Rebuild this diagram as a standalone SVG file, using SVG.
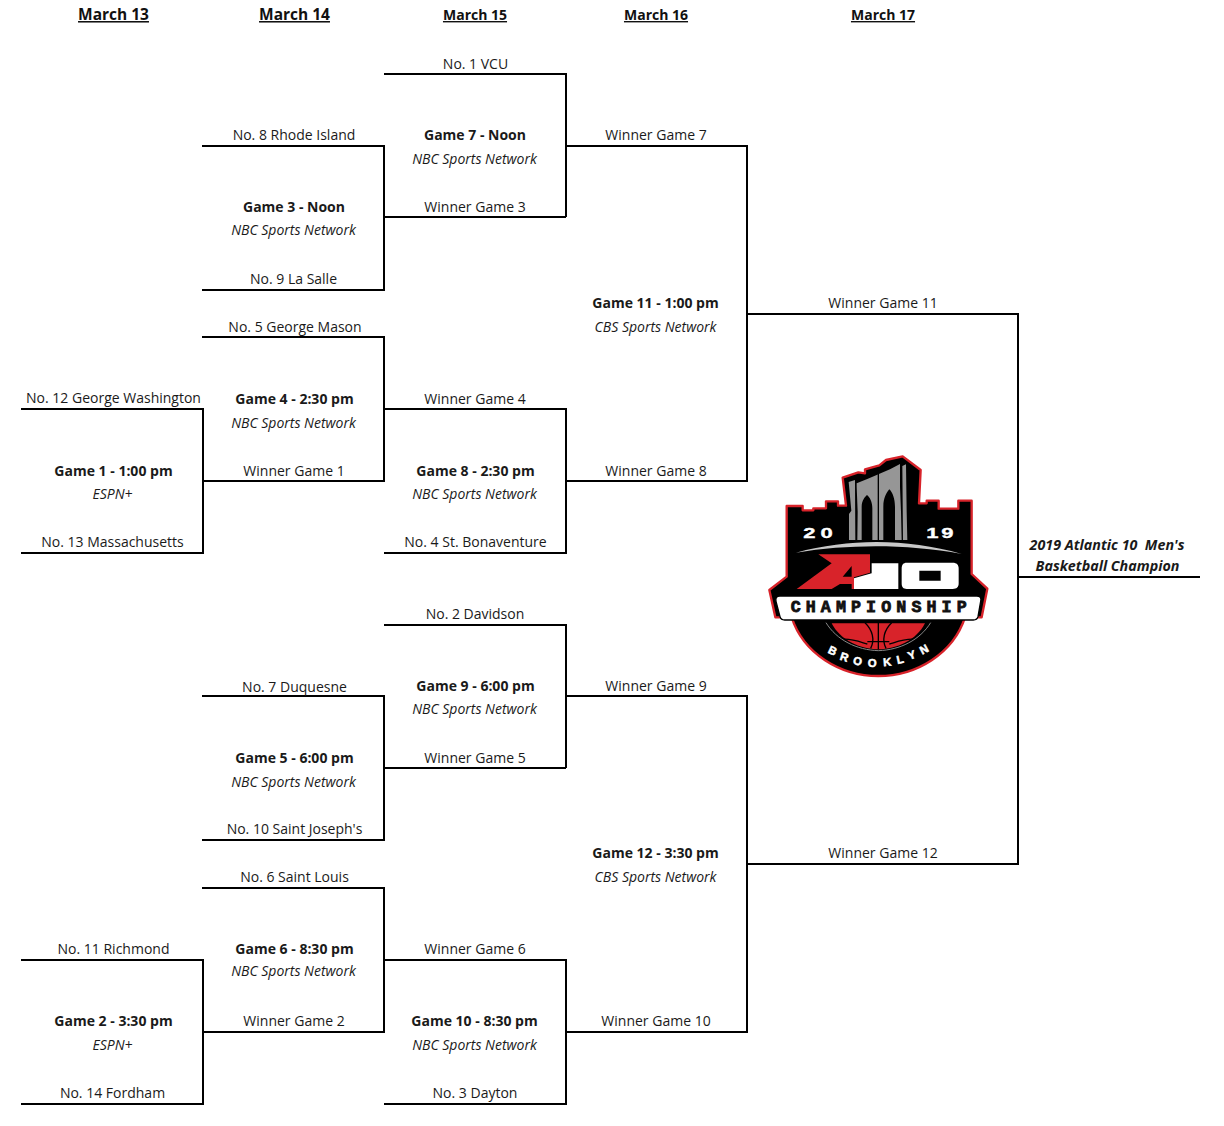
<svg xmlns="http://www.w3.org/2000/svg" width="1224" height="1126" viewBox="0 0 1224 1126">
<style>
text{font-family:"Open Sans","Noto Sans","Liberation Sans",sans-serif;font-size:14px;fill:#1a1a1a;text-anchor:middle}
.b{font-weight:700}
.i{font-style:italic}
.h{font-weight:700;text-decoration:underline;font-size:15.500px;fill:#111}
.h2{font-weight:700;text-decoration:underline;font-size:14px;fill:#111}
.c{font-weight:700;font-style:italic;font-size:14.300px}
#connectors path{fill:none;stroke:#000;stroke-width:2}
#logo text.y{font-family:"Liberation Sans",sans-serif;font-weight:700;fill:#fff;stroke:#fff;stroke-width:1;font-size:44px}
#logo text.k{font-family:"Liberation Sans",sans-serif;font-weight:700;fill:#fff;stroke:#fff;stroke-width:1.500;font-size:34px}
#logo text.m{font-family:"Liberation Mono",monospace;font-weight:700;fill:#111;stroke:#111;stroke-width:2.500;font-size:50px}
</style>
<rect width="1224" height="1126" fill="#fff"/>
<g id="connectors">
<path d="M202 146H384V290H202M384 217H566M384 74H566V217M566 146H747V481H566"/>
<path d="M202 337H384V481H203M21 409H203V553H21M384 409H566V553H384M747 314H1018V864H747"/>
<path d="M1018 577H1200"/>
<path d="M202 696H384V840H202M384 768H566M384 625H566V768M566 696H747V1032H566"/>
<path d="M202 888H384V1032H203M21 960H203V1104H21M384 960H566V1104H384"/>
</g>
<g id="headers">
<text class="h" x="113.500" y="20">March 13</text>
<text class="h" x="294.500" y="20">March 14</text>
<text class="h2" x="475" y="20">March 15</text>
<text class="h2" x="656" y="20">March 16</text>
<text class="h2" x="883" y="20">March 17</text>
</g>
<g id="game-1"><text x="113.500" y="403">No. 12 George Washington</text><text class="b" x="113.500" y="476">Game 1 - 1:00 pm</text><text class="i" x="112.500" y="499">ESPN+</text><text x="112.500" y="547">No. 13 Massachusetts</text></g>
<g id="game-2"><text x="113.500" y="954">No. 11 Richmond</text><text class="b" x="113.500" y="1026">Game 2 - 3:30 pm</text><text class="i" x="112.500" y="1050">ESPN+</text><text x="112.500" y="1098">No. 14 Fordham</text></g>
<g id="game-3"><text x="294" y="140">No. 8 Rhode Island</text><text class="b" x="294" y="212">Game 3 - Noon</text><text class="i" x="293.500" y="235">NBC Sports Network</text><text x="293.500" y="284">No. 9 La Salle</text></g>
<g id="game-4"><text x="295" y="332">No. 5 George Mason</text><text class="b" x="294.500" y="404">Game 4 - 2:30 pm</text><text class="i" x="293.500" y="428">NBC Sports Network</text><text x="294" y="476">Winner Game 1</text></g>
<g id="game-5"><text x="294.500" y="692">No. 7 Duquesne</text><text class="b" x="294.500" y="763">Game 5 - 6:00 pm</text><text class="i" x="293.500" y="787">NBC Sports Network</text><text x="294.500" y="834">No. 10 Saint Joseph's</text></g>
<g id="game-6"><text x="294.500" y="882">No. 6 Saint Louis</text><text class="b" x="294.500" y="954">Game 6 - 8:30 pm</text><text class="i" x="293.500" y="976">NBC Sports Network</text><text x="294" y="1026">Winner Game 2</text></g>
<g id="game-7"><text x="475.500" y="69">No. 1 VCU</text><text class="b" x="475" y="140">Game 7 - Noon</text><text class="i" x="474.500" y="164">NBC Sports Network</text><text x="475" y="212">Winner Game 3</text></g>
<g id="game-8"><text x="475" y="404">Winner Game 4</text><text class="b" x="475.500" y="476">Game 8 - 2:30 pm</text><text class="i" x="474.500" y="499">NBC Sports Network</text><text x="475.500" y="547">No. 4 St. Bonaventure</text></g>
<g id="game-9"><text x="475" y="619">No. 2 Davidson</text><text class="b" x="475.500" y="691">Game 9 - 6:00 pm</text><text class="i" x="474.500" y="714">NBC Sports Network</text><text x="475" y="763">Winner Game 5</text></g>
<g id="game-10"><text x="475" y="954">Winner Game 6</text><text class="b" x="474.500" y="1026">Game 10 - 8:30 pm</text><text class="i" x="474.500" y="1050">NBC Sports Network</text><text x="475" y="1098">No. 3 Dayton</text></g>
<g id="game-11"><text x="656" y="140">Winner Game 7</text><text class="b" x="655.500" y="308">Game 11 - 1:00 pm</text><text class="i" x="655.500" y="332">CBS Sports Network</text><text x="656" y="476">Winner Game 8</text></g>
<g id="game-12"><text x="656" y="691">Winner Game 9</text><text class="b" x="655.500" y="858">Game 12 - 3:30 pm</text><text class="i" x="655.500" y="882">CBS Sports Network</text><text x="656" y="1026">Winner Game 10</text></g>
<g id="final"><text x="883" y="308">Winner Game 11</text><text x="883" y="858">Winner Game 12</text></g>
<g id="champion"><text class="c" x="1107" y="550" xml:space="preserve">2019 Atlantic 10  Men's</text><text class="c" x="1107.500" y="571">Basketball Champion</text></g>
<g id="logo" transform="translate(750 440) scale(.33333)">
<path fill="#000" stroke="#d8232a" stroke-width="7" stroke-linejoin="round" d="M110 198H158V211H190V205H228V184H264V197H288L278 113L325 97L345 100V88L388 76L408 60L458 49L512 90L507 190H530V182H566V206H625V182H665V402L712 446L695 532H645C610 640 500 708 385 708C270 708 160 640 125 532H76L58 450L110 410Z"/>
<path fill="#969696" d="M297 300V222L304 212L296 126L315 120L316 300Z"/>
<path fill="#969696" d="M320 130L350 118L380 105L392 100L420 88L450 72V140L453 215L455 300H322L323 215L320 140Z"/>
<path fill="#969696" d="M457 78L468 73L470 215L472 300H459Z"/>
<path fill="#000" d="M335 300V200C335 182 345 170 351 165C360 172 367 186 367 205V300ZM400 300V200C400 172 410 158 418 148C428 158 435 176 435 200V300ZM383 102H387V300H383Z"/>
<path fill="#c8c8c8" d="M138 338C300 295 470 295 635 342C470 312 300 312 138 338Z"/>
<text class="y" transform="translate(178 295) scale(1.500 1)">2</text>
<text class="y" transform="translate(230 295) scale(1.500 1)">0</text>
<text class="y" transform="translate(547 295) scale(1.500 1)">1</text>
<text class="y" transform="translate(592 295) scale(1.500 1)">9</text>
<path fill="#d8232a" fill-rule="evenodd" d="M205 343H360V398L312 412V447H305V432H270L245 447H140L245 370ZM278 410H305V378Z"/>
<path fill="#fff" d="M365 370H445V447H312V415L365 400Z"/>
<path fill="#fff" fill-rule="evenodd" d="M470 368H608C620 368 626 374 626 386V430C626 442 620 447 608 447H470C460 447 455 442 455 430V386C455 374 460 368 470 368ZM508 392V422H572V392Z"/>
<path fill="#fff" stroke="#000" stroke-width="4" stroke-linejoin="round" d="M90 468H680C690 468 695 473 692 484L684 530C682 538 678 540 670 540H104C96 540 92 538 90 530L78 484C76 473 80 468 90 468Z"/>
<text class="m" x="386" y="517" textLength="528">CHAMPIONSHIP</text>
<path fill="#d8232a" d="M245 550H525C500 600 440 628 385 628C330 628 270 600 245 550Z"/>
<path fill="none" stroke="#000" stroke-width="4" d="M385 548V628M345 548C368 570 375 600 362 625M425 548C402 570 395 600 408 625M262 600C300 590 340 610 352 612M508 600C470 590 430 610 418 612M352 605H418"/>
<path fill="none" stroke="#888" stroke-width="3" d="M228 548C260 600 320 630 385 632C450 630 510 600 542 548"/>
<text class="k" transform="translate(248 632) rotate(25)" y="12">B</text>
<text class="k" transform="translate(283 651) rotate(18)" y="12">R</text>
<text class="k" transform="translate(323 663) rotate(12)" y="12">O</text>
<text class="k" transform="translate(367 669) rotate(5)" y="12">O</text>
<text class="k" transform="translate(412 666) rotate(-5)" y="12">K</text>
<text class="k" transform="translate(450 658) rotate(-12)" y="12">L</text>
<text class="k" transform="translate(485 645) rotate(-20)" y="12">Y</text>
<text class="k" transform="translate(522 628) rotate(-28)" y="12">N</text>
</g>
</svg>
